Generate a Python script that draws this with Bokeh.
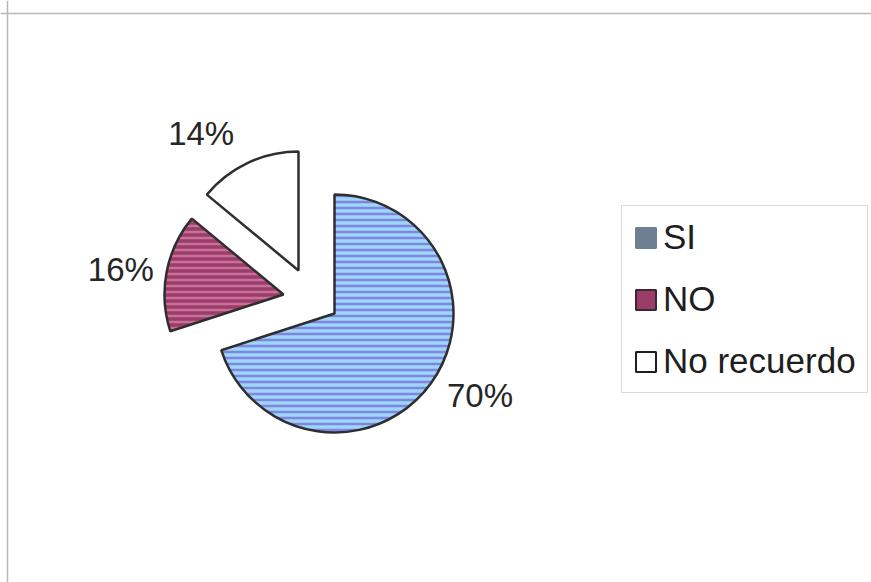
import numpy as np
from bokeh.plotting import figure
from bokeh.models import Range1d, Legend, LegendItem, Span
from bokeh.core.properties import value
from bokeh.embed import file_html
from bokeh.resources import INLINE

# ---- data ----
categories = ["SI", "NO", "No recuerdo"]
percents = [70, 16, 14]
labels = [f"{v}%" for v in percents]

# ---- style ----
W, H = 871, 582
fill_colors = ["#9cd6f8", "#9c3c68", "#ffffff"]
hatch_colors = ["#8086e0", "#c8709c", None]
legend_colors = ["#6d8092", "#9c3c68", "#ffffff"]
legend_lines = ["#6d8092", "#3a2a30", "#1e1e1e"]
explode_dx = [0, -51, -36]     # pixel offsets of exploded slices
explode_dy = [0, 19, 43]
label_gap = [20, 13, 32]
cx, cy, R = 334, H - 313, 119

p = figure(width=W, height=H, x_range=Range1d(0, W), y_range=Range1d(0, H),
           output_backend="svg", toolbar_location=None, min_border=0)
p.axis.visible = False
p.grid.visible = False
p.outline_line_color = None
p.background_fill_color = "white"
p.border_fill_color = "white"

frac = np.array(percents, dtype=float) / sum(percents)
cum_end = np.cumsum(frac)
cum_start = cum_end - frac
start = np.pi / 2 - 2 * np.pi * cum_start
end = np.pi / 2 - 2 * np.pi * cum_end
mid = (start + end) / 2

for i, cat in enumerate(categories):
    ox = cx + explode_dx[i]
    oy = cy + explode_dy[i]
    kw = dict(x=[ox], y=[oy], radius=R, start_angle=[start[i]], end_angle=[end[i]],
              direction="clock", fill_color=fill_colors[i], line_color="#2e2e2e",
              line_width=2.5)
    if hatch_colors[i]:
        kw.update(hatch_pattern="horizontal_line", hatch_color=hatch_colors[i],
                  hatch_scale=6, hatch_weight=2.5)
    p.wedge(**kw)

    lr = R + label_gap[i]
    lx = ox + lr * np.cos(mid[i])
    ly = oy + lr * np.sin(mid[i])
    p.text(x=[lx], y=[ly], text=[labels[i]],
           text_align="left" if np.cos(mid[i]) > 0 else "right",
           text_baseline="middle", text_font=value("Liberation Sans"),
           text_font_size="33px", text_color="#262626")

# legend swatches (renderers placed outside the visible area, used only for legend)
items = []
for i, cat in enumerate(categories):
    r = p.quad(left=[-60], right=[-50], top=[-50], bottom=[-60],
               fill_color=legend_colors[i], line_color=legend_lines[i], line_width=2)
    items.append(LegendItem(label=cat, renderers=[r]))

legend = Legend(items=items, location=(621, 189), orientation="vertical",
                label_text_font="Liberation Sans", label_text_font_size="35px",
                label_text_color="#1e1e1e", glyph_width=25, glyph_height=25,
                label_standoff=5, spacing=22, padding=11, margin=0,
                border_line_color="#b5b5b5", border_line_width=1.5,
                background_fill_color="white", background_fill_alpha=1)
p.add_layout(legend, "center")

# chart-area border (top and left edges visible)
p.add_layout(Span(location=H - 13, dimension="width", line_color="#b8b8b8", line_width=1.5))
p.add_layout(Span(location=7, dimension="height", line_color="#b8b8b8", line_width=1.5))

open("out.html", "w").write(file_html(p, INLINE))
